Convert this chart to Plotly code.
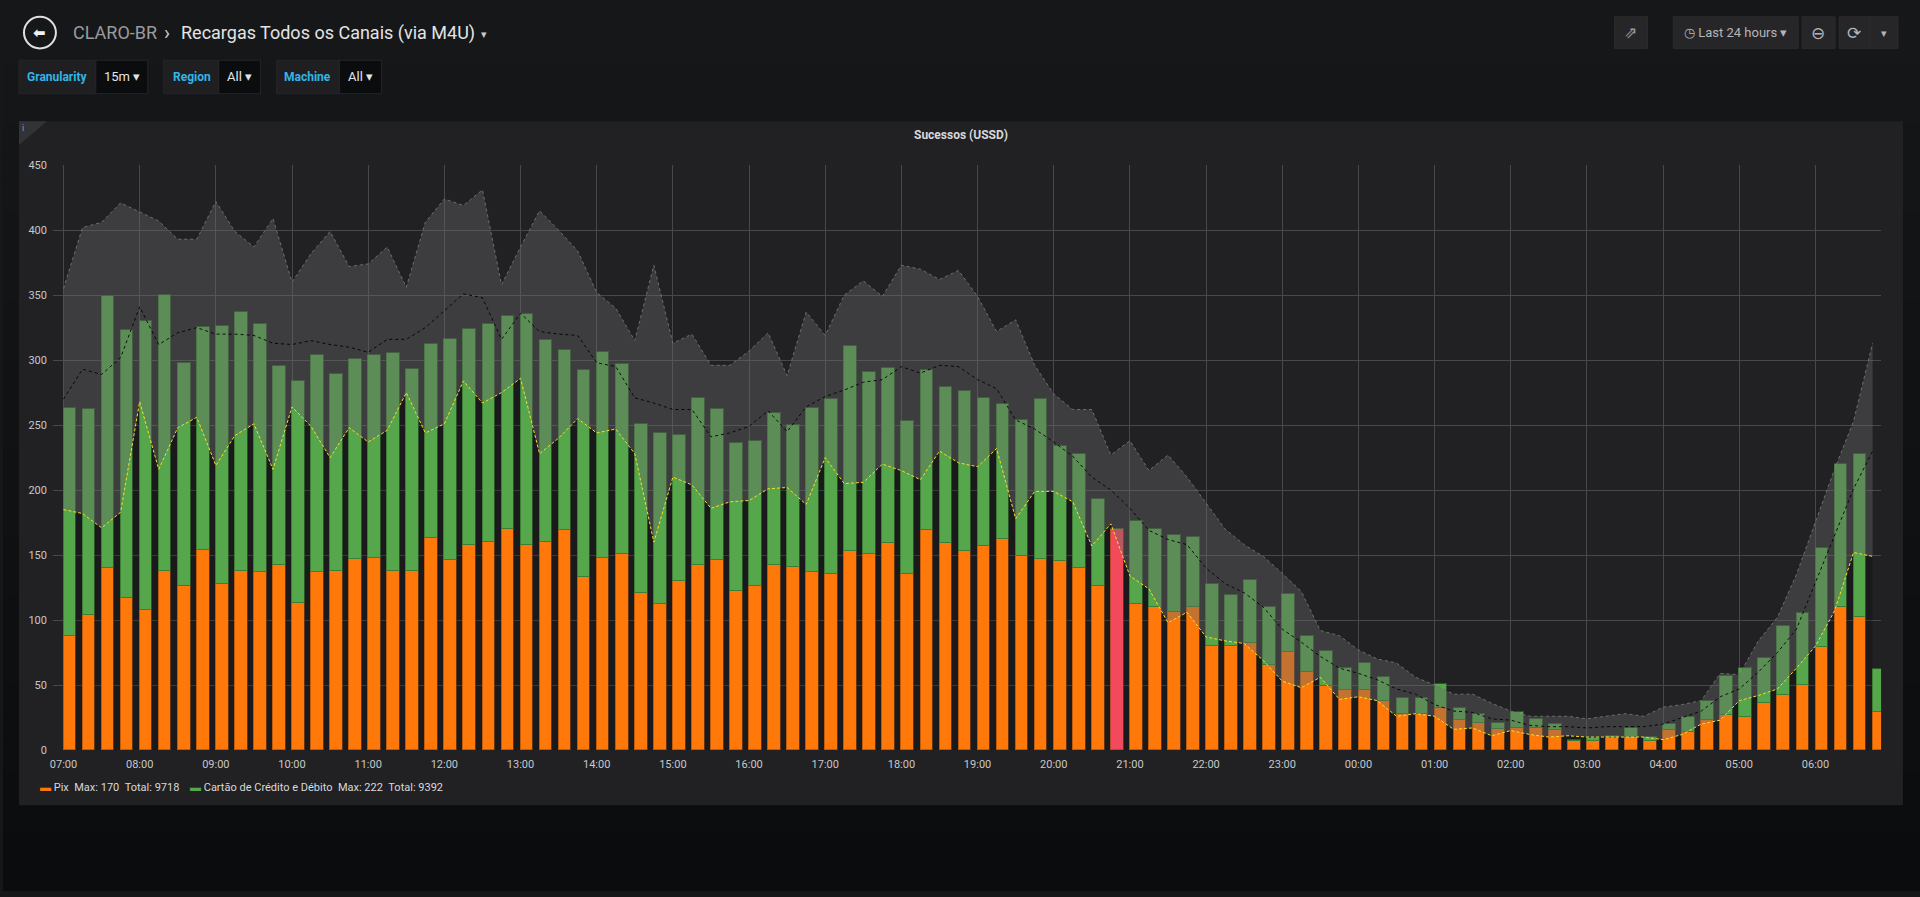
import pandas as pd
import plotly.graph_objects as go

W, H = 1920, 897

# 15 min slots, 07:00 -> 06:45 next day
horarios = pd.date_range("2024-05-20 07:00", periods=96, freq="15min")

pix = [88, 104, 140, 117, 108, 138, 126, 154, 128, 138, 137, 142, 113, 137, 138, 147,
       148, 138, 138, 163, 146, 158, 160, 170, 158, 160, 169, 133, 148, 151, 121, 112,
       130, 142, 146, 122, 126, 142, 141, 137, 135, 153, 151, 159, 135, 169, 159, 153,
       157, 162, 149, 147, 145, 140, 126, 170, 112, 110, 106, 110, 80, 80, 82, 65,
       75, 60, 49, 46, 46, 38, 28, 28, 32, 23, 21, 16, 17, 17, 15, 7,
       7, 9, 10, 7, 15, 14, 23, 27, 25, 36, 42, 50, 79, 110, 102, 29]

cartao = [175, 158, 209, 206, 222, 212, 172, 171, 198, 199, 191, 153, 171, 167, 151, 154,
          156, 167, 155, 149, 170, 166, 168, 164, 177, 155, 139, 159, 158, 146, 130, 132,
          112, 129, 116, 114, 112, 117, 109, 126, 135, 158, 140, 135, 118, 123, 120, 123,
          114, 104, 105, 123, 89, 88, 67, 0, 64, 60, 59, 54, 48, 39, 49, 45,
          45, 28, 27, 17, 21, 18, 12, 12, 19, 9, 7, 5, 12, 7, 5, 1,
          2, 2, 7, 3, 5, 11, 15, 30, 38, 35, 53, 55, 76, 110, 126, 33]

# faixa de referencia (limite superior, media e limite inferior)
limite_sup = [355, 402, 406, 421, 414, 407, 393, 393, 422, 399, 387, 409, 360, 382, 399, 372,
              374, 387, 356, 406, 424, 419, 431, 358, 387, 415, 400, 384, 352, 340, 315, 373,
              313, 320, 296, 296, 307, 321, 288, 337, 319, 350, 361, 349, 373, 370, 362, 369,
              349, 322, 331, 296, 274, 262, 262, 227, 238, 215, 227, 210, 190, 170, 158, 149,
              136, 122, 92, 88, 77, 70, 67, 56, 50, 43, 43, 36, 30, 26, 26, 26,
              24, 26, 28, 26, 33, 35, 38, 59, 58, 84, 102, 135, 176, 216, 253, 313]

media = [270, 293, 289, 302, 341, 312, 321, 325, 320, 320, 319, 313, 312, 315, 312, 310,
         306, 316, 316, 325, 338, 351, 348, 316, 336, 322, 320, 319, 298, 295, 271, 267,
         262, 262, 241, 244, 249, 261, 245, 264, 272, 277, 283, 285, 295, 290, 296, 295,
         285, 278, 254, 247, 237, 226, 210, 200, 186, 169, 162, 158, 140, 128, 121, 110,
         93, 83, 72, 63, 59, 54, 47, 43, 35, 30, 29, 24, 23, 19, 18, 18,
         17, 18, 18, 18, 20, 25, 30, 41, 47, 60, 75, 93, 129, 164, 201, 230]

limite_inf = [185, 182, 171, 183, 268, 216, 248, 256, 219, 242, 251, 216, 264, 249, 225, 248,
              237, 246, 275, 244, 251, 284, 267, 275, 286, 228, 240, 255, 244, 247, 228, 160,
              210, 204, 186, 191, 192, 201, 202, 189, 225, 205, 206, 220, 215, 208, 230, 221,
              218, 232, 178, 199, 199, 191, 157, 174, 134, 124, 98, 106, 87, 84, 82, 69,
              53, 48, 56, 39, 41, 38, 26, 28, 26, 16, 17, 11, 15, 12, 10, 11,
              10, 10, 10, 10, 8, 12, 20, 23, 38, 42, 47, 63, 80, 107, 152, 149]

destaque = 55

LARANJA = "#FF780A"
VERDE = "#56A64B"
FONTE = "Roboto"


def px(x):
    return x / W


def py(y):
    return 1 - y / H


cores_pix = ["#F2495C" if i == destaque else LARANJA for i in range(len(pix))]

fig = go.Figure()

# sombra abaixo do limite inferior (fica atras das barras)
fig.add_trace(go.Scatter(x=horarios, y=limite_inf, mode="lines", line=dict(width=0),
                         fill="tozeroy", fillcolor="rgba(0,0,0,0.2)",
                         showlegend=False, hoverinfo="skip"))

fig.add_trace(go.Bar(x=horarios, y=pix, name="Pix", xaxis="x2", yaxis="y2",
                     offset=0, width=600000,
                     marker=dict(color=cores_pix, line=dict(color="rgba(150,70,5,0.6)", width=1))))
fig.add_trace(go.Bar(x=horarios, y=cartao, name="Cartão de Crédito e Débito", xaxis="x2", yaxis="y2",
                     offset=0, width=600000,
                     marker=dict(color=VERDE, line=dict(color="rgba(50,110,45,0.7)", width=1))))

fig.add_trace(go.Scatter(x=horarios, y=limite_inf, mode="lines", xaxis="x2", yaxis="y2",
                         line=dict(color="#FADE2A", width=1, dash="3px,2px"),
                         showlegend=False, hoverinfo="skip"))
fig.add_trace(go.Scatter(x=horarios, y=limite_sup, mode="lines", xaxis="x2", yaxis="y2",
                         line=dict(color="#6E6E70", width=1, dash="dot"),
                         fill="tonexty", fillcolor="rgba(106,106,106,0.4)",
                         showlegend=False, hoverinfo="skip"))
fig.add_trace(go.Scatter(x=horarios, y=media, mode="lines", xaxis="x2", yaxis="y2",
                         line=dict(color="rgba(0,0,0,0.9)", width=1, dash="dot"),
                         showlegend=False, hoverinfo="skip"))

shapes = []
# fundo da pagina em degrade
n = 30
for k in range(n):
    t = k / (n - 1)
    c = tuple(round(a + (b - a) * t) for a, b in zip((22, 23, 25), (11, 12, 14)))
    shapes.append(dict(type="rect", xref="paper", yref="paper", layer="below",
                       x0=0, x1=1, y0=py(H * (k + 1) / n + 1), y1=py(H * k / n),
                       fillcolor="rgb(%d,%d,%d)" % c, line=dict(width=0)))
# painel
shapes.append(dict(type="rect", xref="paper", yref="paper", layer="below",
                   x0=px(16), x1=px(1903), y0=py(811), y1=py(117),
                   fillcolor="#212124", line=dict(width=0)))
shapes.append(dict(type="path", xref="paper", yref="paper", layer="below",
                   path="M %f,%f L %f,%f L %f,%f Z" % (px(16), py(117), px(44), py(117), px(16), py(141)),
                   fillcolor="#333336", line=dict(width=0)))
# botao voltar
shapes.append(dict(type="circle", xref="paper", yref="paper", layer="below",
                   x0=px(21), x1=px(53), y0=py(43), y1=py(11),
                   line=dict(color="#E0E0E2", width=2)))
# variaveis
for x0, xm, x1 in [(16, 93, 145), (161, 216, 258), (274, 337, 379)]:
    shapes.append(dict(type="rect", xref="paper", yref="paper", layer="below",
                       x0=px(x0), x1=px(xm), y0=py(89), y1=py(55),
                       fillcolor="#1F1F22", line=dict(color="#262629", width=1)))
    shapes.append(dict(type="rect", xref="paper", yref="paper", layer="below",
                       x0=px(xm), x1=px(x1), y0=py(89), y1=py(55),
                       fillcolor="#0B0C0E", line=dict(color="#262629", width=1)))
# botoes do topo
for x0, x1 in [(1614, 1647), (1673, 1798), (1802, 1835), (1839, 1870), (1870, 1898)]:
    shapes.append(dict(type="rect", xref="paper", yref="paper", layer="below",
                       x0=px(x0), x1=px(x1), y0=py(43), y1=py(11),
                       fillcolor="#262628", line=dict(color="#2C2C2F", width=1)))

anns = []


def texto(x, y, s, size=12, color="#D8D9DA", xanchor="left", fam=FONTE):
    anns.append(dict(x=px(x), y=py(y), xref="paper", yref="paper", text=s, showarrow=False,
                     xanchor=xanchor, yanchor="middle",
                     font=dict(family=fam, size=size, color=color)))


texto(37, 27, "<b>⬅</b>", 15, "#F0F0F2", "center", "DejaVu Sans")
texto(68, 27, "CLARO-BR", 18, "#9A9B9E")
texto(164, 27, "›", 20, "#C8C9CA", "center")
texto(176, 27, "Recargas Todos os Canais (via M4U)", 18, "#E3E4E6")
texto(482, 29, "▾", 11, "#C8C9CA", "center")

texto(54, 72, "<b>Granularity</b>", 12, "#33B5E5", "center")
texto(119, 72, "15m ▾", 13, "#E3E4E6", "center")
texto(189, 72, "<b>Region</b>", 12, "#33B5E5", "center")
texto(237, 72, "All ▾", 13, "#E3E4E6", "center")
texto(305, 72, "<b>Machine</b>", 12, "#33B5E5", "center")
texto(358, 72, "All ▾", 13, "#E3E4E6", "center")

texto(1630, 27, "⇗", 16, "#9A9B9E", "center")
texto(1735, 27, "◷ Last 24 hours ▾", 13, "#B4B5B8", "center")
texto(1818, 27, "⊖", 17, "#B4B5B8", "center")
texto(1854, 27, "⟳", 17, "#B4B5B8", "center")
texto(1884, 28, "▾", 11, "#B4B5B8", "center")

texto(20, 124, "i", 9, "#9A9B9E", "center")
texto(959, 131, "<b>Sucessos (USSD)</b>", 12, "#D8D9DA", "center")

nb = "\u00a0"
texto(35, 793, '<span style="color:%s">▬</span>%sPix%sMax: 170%sTotal: 9718'
      % (LARANJA, nb, nb * 2, nb * 2), 11, "#D8D9DA")
texto(185, 793, '<span style="color:%s">▬</span>%sCartão de Crédito e Débito%sMax: 222%sTotal: 9392'
      % (VERDE, nb, nb * 2, nb * 2), 11, "#D8D9DA")

x_range = ["2024-05-20 06:51:40", "2024-05-21 06:51:40"]
dom_x = [px(50), px(1881)]
dom_y = [py(755), py(161.5)]

fig.update_layout(
    autosize=True,
    margin=dict(l=0, r=0, t=0, b=0),
    paper_bgcolor="#161719", plot_bgcolor="rgba(0,0,0,0)",
    barmode="stack", bargap=0,
    showlegend=False, hovermode=False,
    font=dict(family=FONTE, color="#C7C8CA", size=11),
    xaxis=dict(type="date", domain=dom_x, range=x_range, tick0="2024-05-20 07:00", dtick=3600000,
               tickformat="%H:%M", showgrid=True, gridcolor="#48484B", gridwidth=1,
               zeroline=False, showline=False, ticks="", ticklabelstandoff=6,
               tickfont=dict(size=11, color="#C7C8CA")),
    yaxis=dict(domain=dom_y, range=[0, 450], dtick=50, showgrid=True, gridcolor="#48484B",
               gridwidth=1, zeroline=False, showline=False, ticks="", ticklabelstandoff=5,
               tickfont=dict(size=11, color="#C7C8CA")),
    xaxis2=dict(type="date", overlaying="x", matches="x", visible=False, range=x_range),
    yaxis2=dict(overlaying="y", matches="y", visible=False, range=[0, 450]),
    shapes=shapes,
    annotations=anns,
)

fig.write_html("out.html", default_width="100vw", default_height="100vh",
               config={"displayModeBar": False, "responsive": True},
               post_script="document.body.style.margin='0';document.body.style.overflow='hidden';"
                           "document.body.style.background='#161719';")
